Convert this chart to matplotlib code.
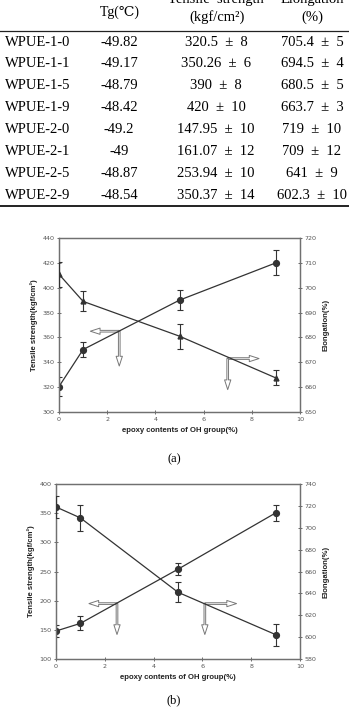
import matplotlib
matplotlib.use("Agg")
import matplotlib.pyplot as plt

W, H = 349, 712

# ---- table data ----
samples = ["WPUE-1-0", "WPUE-1-1", "WPUE-1-5", "WPUE-1-9",
           "WPUE-2-0", "WPUE-2-1", "WPUE-2-5", "WPUE-2-9"]
tg = [-49.82, -49.17, -48.79, -48.42, -49.2, -49, -48.87, -48.54]

# ---- series (epoxy content of OH group, %) ----
epoxy = [0, 1, 5, 9]
ts1 = [320.5, 350.26, 390, 420]
ts1_err = [8, 6, 8, 10]
el1 = [705.4, 694.5, 680.5, 663.7]
el1_err = [5, 4, 5, 3]
ts2 = [147.95, 161.07, 253.94, 350.37]
ts2_err = [10, 12, 10, 14]
el2 = [719, 709, 641, 602.3]
el2_err = [10, 12, 9, 10]

SERIF = ["Liberation Serif", "DejaVu Serif"]
SANS = ["Liberation Sans", "DejaVu Sans"]
LINE = "#333333"
SPINE = "#707070"
TICK = "#555555"


def px(x, y):
    return x / W, 1 - y / H


fig = plt.figure(figsize=(W / 100, H / 100), dpi=100)

# ----- table -----
col_x = [5, 119, 216, 312]
fs = 10.5
fig.text(*px(216, 3), "Tensile  strength", family=SERIF, fontsize=fs,
         ha="center", va="baseline")
fig.text(*px(312, 3), "Elongation", family=SERIF, fontsize=fs,
         ha="center", va="baseline")
fig.text(*px(120, 12), "Tg(\u2103)", family=SERIF, fontsize=fs - 0.5,
         ha="center", va="center")
fig.text(*px(217, 17), "(kgf/cm\u00b2)", family=SERIF, fontsize=fs,
         ha="center", va="center")
fig.text(*px(312, 17), "(%)", family=SERIF, fontsize=fs,
         ha="center", va="center")
fig.add_artist(plt.Line2D([0, 1], [1 - 31 / H] * 2, color="#222222", lw=0.9))
fig.add_artist(plt.Line2D([0, 1], [1 - 206.5 / H] * 2, color="#222222", lw=1.4))

ts_all = ts1 + ts2
ts_err_all = ts1_err + ts2_err
el_all = el1 + el2
el_err_all = el1_err + el2_err
for i, name in enumerate(samples):
    y = 42 + i * 21.9
    fig.text(*px(col_x[0], y), name, family=SERIF, fontsize=fs,
             ha="left", va="center")
    fig.text(*px(col_x[1], y), f"{tg[i]:g}", family=SERIF, fontsize=fs,
             ha="center", va="center")
    fig.text(*px(col_x[2], y), f"{ts_all[i]:g}  \u00b1  {ts_err_all[i]:g}",
             family=SERIF, fontsize=fs, ha="center", va="center")
    fig.text(*px(col_x[3], y), f"{el_all[i]:g}  \u00b1  {el_err_all[i]:g}",
             family=SERIF, fontsize=fs, ha="center", va="center")


def hollow_arrow(ax, start, end):
    ax.annotate("", xy=end, xytext=start,
                arrowprops=dict(arrowstyle="simple,head_width=0.45,head_length=0.7,tail_width=0.12",
                                fc="white", ec="#777777", lw=0.7,
                                shrinkA=0, shrinkB=0))


def panel(rect, ts, ts_err, el, el_err, ylim_l, yt_l, ylim_r, yt_r,
          el_marker, arrows, tag, tag_y):
    ax = fig.add_axes(rect)
    ax2 = ax.twinx()
    ax.errorbar(epoxy, ts, yerr=ts_err, color=LINE, lw=0.9, marker="o",
                ms=4.2, capsize=2.2, elinewidth=0.8, capthick=0.8, zorder=3)
    ms_el = 3.5 if el_marker == "^" else 4.2
    ax2.errorbar(epoxy, el, yerr=el_err, color=LINE, lw=0.9, marker=el_marker,
                 ms=ms_el, capsize=2.2, elinewidth=0.8, capthick=0.8, zorder=3)
    ax.set_xlim(0, 10)
    ax.set_xticks(range(0, 11, 2))
    ax.set_ylim(*ylim_l)
    ax.set_yticks(yt_l)
    ax2.set_ylim(*ylim_r)
    ax2.set_yticks(yt_r)
    for a in (ax, ax2):
        for s in a.spines.values():
            s.set_color(SPINE)
            s.set_linewidth(0.9)
        a.tick_params(labelsize=4.6, colors=TICK, length=2.5, width=0.6,
                      direction="inout", pad=2)
    ax.set_xlabel("epoxy contents of OH group(%)", family=SANS, fontsize=5.6,
                  fontweight="bold", color="#222222", labelpad=4)
    ax.set_ylabel("Tensile strength(kgf/cm\u00b2)", family=SANS, fontsize=5.6,
                  fontweight="bold", color="#222222", labelpad=3)
    ax2.set_ylabel("Elongation(%)", family=SANS, fontsize=5.6,
                   fontweight="bold", color="#222222", labelpad=4)
    for start, end in arrows:
        hollow_arrow(ax, start, end)
    fig.text(*px(174, tag_y), tag, family=SERIF, fontsize=9,
             ha="center", va="center")
    return ax


panel([59 / W, 1 - 412 / H, 241 / W, 174 / H], ts1, ts1_err, el1, el1_err,
      (300, 440), range(300, 441, 20), (650, 720), range(650, 721, 10), "^",
      [((2.5, 365), (1.3, 365)), ((2.5, 365), (2.5, 337)),
       ((7.0, 343), (8.3, 343)), ((7.0, 343), (7.0, 318))],
      "(a)", 459)

panel([56 / W, 1 - 659 / H, 244 / W, 175 / H], ts2, ts2_err, el2, el2_err,
      (100, 400), range(100, 401, 50), (580, 740), range(580, 741, 20), "o",
      [((2.5, 195), (1.35, 195)), ((2.5, 195), (2.5, 142)),
       ((6.1, 195), (7.4, 195)), ((6.1, 195), (6.1, 142))],
      "(b)", 700)

fig.savefig("out.png", dpi=100)
